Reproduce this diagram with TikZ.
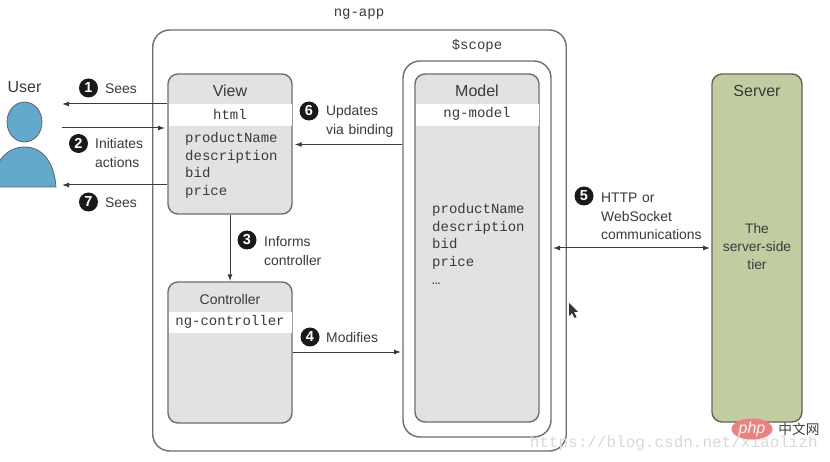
\documentclass[tikz,border=0pt]{standalone}
\usepackage{fontspec}
\setmainfont{Liberation Sans}
\setmonofont{Liberation Mono}
\newfontfamily\cjkfont{Noto Sans CJK SC}
\usetikzlibrary{arrows.meta}
\definecolor{edgegray}{HTML}{6E6E6E}
\definecolor{panel}{HTML}{E2E2E2}
\definecolor{ink}{HTML}{3A3A3A}
\definecolor{userblue}{HTML}{62A9CC}
\definecolor{servergreen}{HTML}{C1CCA1}
\definecolor{serveredge}{HTML}{62665A}
\definecolor{markgray}{HTML}{D9D9D9}
\definecolor{phpred}{HTML}{F08080}
\tikzset{
  frame/.style={draw=edgegray,line width=1.4pt,fill=white,rounded corners=17pt,inner sep=0pt},
  panelbox/.style={draw=edgegray,line width=1.4pt,fill=panel,rounded corners=10pt,inner sep=0pt},
  serverbox/.style={draw=serveredge,line width=1.4pt,fill=servergreen,rounded corners=10pt,inner sep=0pt},
  band/.style={fill=white,inner sep=0pt},
  title/.style={font=\fontsize{16}{18}\selectfont,text=ink,inner sep=0pt},
  label/.style={font=\fontsize{13.9}{18.3}\selectfont,text=ink,align=left,anchor=west,inner sep=0pt},
  code/.style={font=\ttfamily\fontsize{14}{17.7}\selectfont,text=ink,inner sep=0pt},
  codelist/.style={code,align=left,anchor=north west},
  badge/.style={circle,fill=black!90,text=white,minimum size=19pt,inner sep=0pt,font=\bfseries\fontsize{14.5}{14.5}\selectfont},
  conn/.style={draw=ink,line width=1pt,-{Latex[length=7pt,width=5pt]}},
  conntwo/.style={draw=ink,line width=1pt,{Latex[length=7pt,width=5pt]}-{Latex[length=7pt,width=5pt]}},
  person/.style={draw=ink!80,line width=0.8pt,fill=userblue},
}
\begin{document}
\begin{tikzpicture}[x=1pt,y=-1pt]
\useasboundingbox[fill=white] (0,0) rectangle (830,462);
% containers
\node[frame,minimum width=413.5pt,minimum height=421pt] (app) at (359.5,240.5) {};
\node[frame,minimum width=148pt,minimum height=376pt] (scope) at (477,249) {};
\node[panelbox,minimum width=124pt,minimum height=348pt] (model) at (477,248) {};
\node[panelbox,minimum width=124pt,minimum height=140pt] (view) at (230,144) {};
\node[panelbox,minimum width=124pt,minimum height=141pt] (ctrl) at (230,352.5) {};
\node[serverbox,minimum width=90pt,minimum height=348pt] (server) at (757,248) {};
% bands
\node[band,minimum width=123pt,minimum height=22pt] (viewband) at (230,115) {};
\node[band,minimum width=123pt,minimum height=21pt] (ctrlband) at (230,322.5) {};
\node[band,minimum width=123pt,minimum height=22pt] (modelband) at (477,115) {};
% captions
\node[code] (apptag) at (359,14) {ng-app};
\node[code] (scopetag) at (477,46) {\$scope};
\node[title] (usertag) at (24.5,87) {User};
\node[title] (viewtag) at (230,90.5) {View};
\node[title,font=\fontsize{14}{16}\selectfont] (ctrltag) at (230,299) {Controller};
\node[title] (modeltag) at (477,91) {Model};
\node[title] (servertag) at (757,91) {Server};
\node[code] (htmltag) at (230,114) {html};
\node[code] (ngctrl) at (230,322) {ng-controller};
\node[code] (ngmodel) at (477,114) {ng-model};
\node[codelist] (viewlist) at (185,132) {productName\\description\\bid\\price};
\node[codelist] (modellist) at (432,203) {productName\\description\\bid\\price\\…};
\node[title,font=\fontsize{13.8}{18}\selectfont,align=center] (servertext) at (757,247) {The\\server-side\\tier};
% user
\draw[person] (24.5,122) ellipse (17.5 and 20);
\draw[person] (-8,187) .. controls (-6,160) and (8,147) .. (24.5,147) .. controls (41,147) and (54,160) .. (56,187) -- cycle;
\coordinate (userA) at (62,104);
\coordinate (userB) at (62,128);
\coordinate (userC) at (62,185);
\coordinate (appin) at (165,128);
% connectors
\draw[conn] (view.west |- userA) -- (userA);
\draw[conn] (userB) -- (appin);
\draw[conn] (view.west |- userC) -- (userC);
\draw[conn] (view.south) -- (ctrl.north);
\coordinate (bindy) at (0,144.5);
\draw[conn] (scope.west |- bindy) -- ([xshift=2pt]view.east |- bindy);
\coordinate (modin) at (401,352);
\draw[conn] (ctrl.east |- modin) -- (modin);
\coordinate (scopeE) at (553,248);
\coordinate (servW) at (710,248);
\draw[conntwo] (scopeE) -- (servW);
% badges and labels
\node[badge] (b1) at (88.5,88) {1};
\node[label] (l1) at (105,89) {Sees};
\node[badge] (b2) at (78.5,143.5) {2};
\node[label,text width=60pt] (l2) at (95,153) {Initiates\\actions};
\node[badge] (b7) at (88.5,202) {7};
\node[label] (l7) at (105,203) {Sees};
\node[badge] (b6) at (309,111) {6};
\node[label,text width=80pt] (l6) at (326,121.5) {Updates\\via binding};
\node[badge] (b3) at (247,240) {3};
\node[label,text width=60pt] (l3) at (264,251) {Informs\\controller};
\node[badge] (b4) at (310,337) {4};
\node[label] (l4) at (326,338) {Modifies};
\node[badge] (b5) at (584,196) {5};
\node[label,text width=110pt] (l5) at (601,216.5) {HTTP or\\WebSocket\\communications};
% cursor
\fill[black!80] (569,303) -- (569,316) -- (572,313) -- (574.5,318) -- (576.5,317) -- (574,312) -- (578,312) -- cycle;
% watermark
\node[font=\ttfamily\fontsize{16}{18}\selectfont,text=markgray,anchor=east,inner sep=0pt] (wm) at (818,443) {https://blog.csdn.net/xiaolizh};
\fill[phpred] (752,429) ellipse (20.5 and 10.5);
\node[font=\itshape\fontsize{16}{16}\selectfont,text=white,inner sep=0pt] (php) at (752,429) {php};
\node[font=\cjkfont\fontsize{13.7}{14}\selectfont,text=black!75,inner sep=0pt] (cn) at (799,429) {中文网};
\end{tikzpicture}
\end{document}
